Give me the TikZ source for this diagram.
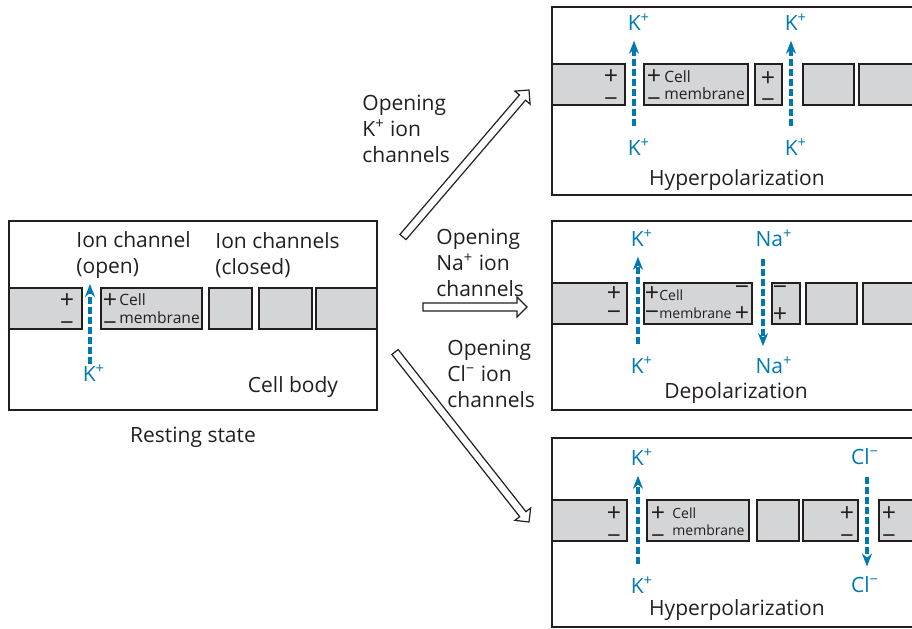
\documentclass[tikz,border=0pt]{standalone}
\usepackage{fontspec}
\setmainfont{Open Sans}
\usetikzlibrary{arrows.meta,calc,fit}
\definecolor{ionblue}{RGB}{0,120,178}
\definecolor{membgray}{RGB}{212,213,215}
\definecolor{ink}{RGB}{35,31,32}

% hollow block arrow from #1 (tail) to #2 (tip)
\newcommand{\blockarrow}[2]{%
  \coordinate (hb) at ($(#2)!5pt!(#1)$);
  \draw[hollow] ($(#1)!2pt!90:(#2)$) -- ($(hb)!2pt!90:(#2)$) -- ($(hb)!5pt!90:(#2)$)
    -- (#2) -- ($(hb)!5pt!-90:(#2)$) -- ($(hb)!2pt!-90:(#2)$) -- ($(#1)!2pt!-90:(#2)$) -- cycle;
}

\begin{document}
\begin{tikzpicture}[
  x=0.5pt,y=-0.5pt,
  panel/.style={draw=ink,line width=0.9pt,inner sep=0pt},
  seg/.style={draw=ink,fill=membgray,line width=0.8pt},
  lbl/.style={font=\fontsize{10.5}{13}\selectfont,text=ink,inner sep=0pt,align=left},
  ionlbl/.style={font=\fontsize{10.5}{13}\selectfont,text=ionblue,inner sep=0pt},
  sgn/.style={font=\fontsize{12.5}{13}\selectfont,text=ink,inner sep=0pt},
  small/.style={font=\fontsize{7.8}{9}\selectfont,text=ink,inner sep=0pt,anchor=west},
  smaller/.style={small,font=\fontsize{7}{9}\selectfont},
  ion/.style={draw=ionblue,line width=1.6pt,dash pattern=on 3.5pt off 1.5pt,
    -{Stealth[length=6.5pt,width=5pt,fill=ionblue]}},
  hollow/.style={draw=ink,fill=white,line width=0.6pt}
]
  \useasboundingbox (0,0) rectangle (912,628);
  \clip (0,0) rectangle (912,628);

  % panels
  \node[panel,fit={(9,221) (377,410)}] (rest) {};
  \node[panel,fit={(552,7) (930,195)}] (hypK) {};
  \node[panel,fit={(552,221) (930,410)}] (depol) {};
  \node[panel,fit={(552,438) (930,627)}] (hypCl) {};

  % membrane pieces
  \foreach \a/\b in {9/82,101/202,209/252,259/312,316/377}
    \draw[seg] (\a,288) rectangle (\b,329);
  \foreach \a/\b in {552/625,644/748,755/782,803/854,859/930}
    \draw[seg] (\a,64) rectangle (\b,105);
  \foreach \a/\b in {552/627,644/752,772/800,806/857,863/930}
    \draw[seg] (\a,283) rectangle (\b,324);
  \foreach \a/\b in {552/627,647/749,757/799,803/858,879/930}
    \draw[seg] (\a,500) rectangle (\b,541);

  % resting state
  \node[lbl,anchor=west] (open) at (76,255) {Ion channel\\(open)};
  \node[lbl,anchor=west] (closed) at (215,255) {Ion channels\\(closed)};
  \node[sgn] (rp1) at (67,301) {+};
  \node[sgn] (rm1) at (67,321) {\_};
  \node[sgn] (rp2) at (110,301) {+};
  \node[sgn] (rm2) at (110,321) {\_};
  \node[small] (rcell) at (119,300) {Cell};
  \node[small] (rmem) at (119,318) {membrane};
  \node[ionlbl] (rk) at (94,373) {K\textsuperscript{+}};
  \coordinate (rtip) at (90,284);
  \draw[ion] ([xshift=-2pt]rk.north) -- (rtip);
  \node[lbl] (body) at (293,387) {Cell body};
  \node[lbl] (rlabel) at (193,437) {Resting state};

  % block arrows
  \coordinate (a1t) at (403,237);
  \coordinate (a1h) at (529,90);
  \coordinate (a2t) at (423,307);
  \coordinate (a2h) at (527,307);
  \coordinate (a3t) at (395,352);
  \coordinate (a3h) at (529,522);
  \blockarrow{a1t}{a1h}
  \blockarrow{a2t}{a2h}
  \blockarrow{a3t}{a3h}
  \node[lbl,anchor=west] (openK) at (362,129) {Opening\\K\textsuperscript{+} ion\\channels};
  \node[lbl,anchor=west] (openNa) at (436,263) {Opening\\Na\textsuperscript{+} ion\\channels};
  \node[lbl,anchor=west] (openCl) at (447,374) {Opening\\Cl\textsuperscript{−} ion\\channels};

  % hyperpolarization (K+)
  \node[sgn] (hp1) at (611,77) {+};
  \node[sgn] (hm1) at (611,97) {\_};
  \node[sgn] (hp2) at (654,77) {+};
  \node[sgn] (hm2) at (654,97) {\_};
  \node[small] (hcell) at (664,77) {Cell};
  \node[small] (hmem) at (664,94) {membrane};
  \node[sgn] (hp3) at (768,79) {+};
  \node[sgn] (hm3) at (768,98) {\_};
  \node[ionlbl] (hk1t) at (639,22) {K\textsuperscript{+}};
  \node[ionlbl] (hk1b) at (639,147) {K\textsuperscript{+}};
  \node[ionlbl] (hk2t) at (796,22) {K\textsuperscript{+}};
  \node[ionlbl] (hk2b) at (796,147) {K\textsuperscript{+}};
  \draw[ion,shorten <=6pt,shorten >=5pt] ([xshift=-2.5pt]hk1b.north) -- ([xshift=-2.5pt]hk1t.south);
  \draw[ion,shorten <=6pt,shorten >=5pt] ([xshift=-2.5pt]hk2b.north) -- ([xshift=-2.5pt]hk2t.south);
  \node[lbl] (hyp1) at (737,180) {Hyperpolarization};

  % depolarization (Na+)
  \node[sgn] (dp1) at (614,294) {+};
  \node[sgn] (dm1) at (614,316) {−};
  \node[sgn] (dp2) at (652,294) {+};
  \node[sgn] (dm2) at (652,316) {−};
  \node[smaller] (dcell) at (659,295) {Cell};
  \node[smaller] (dmem) at (659,313) {membrane};
  \node[sgn] (dm3) at (742,291) {−};
  \node[sgn] (dp3) at (742,314) {+};
  \node[sgn] (dm4) at (780,291) {−};
  \node[sgn] (dp4) at (780,315) {+};
  \node[ionlbl] (dkt) at (642,238) {K\textsuperscript{+}};
  \node[ionlbl] (dkb) at (642,365) {K\textsuperscript{+}};
  \node[ionlbl] (dnat) at (774,238) {Na\textsuperscript{+}};
  \node[ionlbl] (dnab) at (774,365) {Na\textsuperscript{+}};
  \draw[ion,shorten <=6pt,shorten >=5pt] ([xshift=-2pt]dkb.north) -- ([xshift=-2pt]dkt.south);
  \draw[ion,shorten <=6pt,shorten >=5pt] ([xshift=-5.5pt]dnat.south) -- ([xshift=-5.5pt]dnab.north);
  \node[lbl] (depo) at (736,393) {Depolarization};

  % hyperpolarization (Cl-)
  \node[sgn] (cp1) at (614,514) {+};
  \node[sgn] (cm1) at (614,534) {\_};
  \node[sgn] (cp2) at (658,514) {+};
  \node[sgn] (cm2) at (658,534) {\_};
  \node[smaller] (ccell) at (672,513) {Cell};
  \node[smaller] (cmem) at (672,530) {membrane};
  \node[sgn] (cp3) at (847,514) {+};
  \node[sgn] (cm3) at (847,534) {\_};
  \node[sgn] (cp4) at (889,514) {+};
  \node[sgn] (cm4) at (889,534) {\_};
  \node[ionlbl] (ckt) at (642,457) {K\textsuperscript{+}};
  \node[ionlbl] (ckb) at (642,585) {K\textsuperscript{+}};
  \node[ionlbl] (cclt) at (865,457) {Cl\textsuperscript{−}};
  \node[ionlbl] (cclb) at (865,585) {Cl\textsuperscript{−}};
  \draw[ion,shorten <=6pt,shorten >=5pt] ([xshift=-2pt]ckb.north) -- ([xshift=-2pt]ckt.south);
  \draw[ion,shorten <=6pt,shorten >=5pt] ([xshift=1pt]cclt.south) -- ([xshift=1pt]cclb.north);
  \node[lbl] (hyp2) at (737,610) {Hyperpolarization};
\end{tikzpicture}
\end{document}
